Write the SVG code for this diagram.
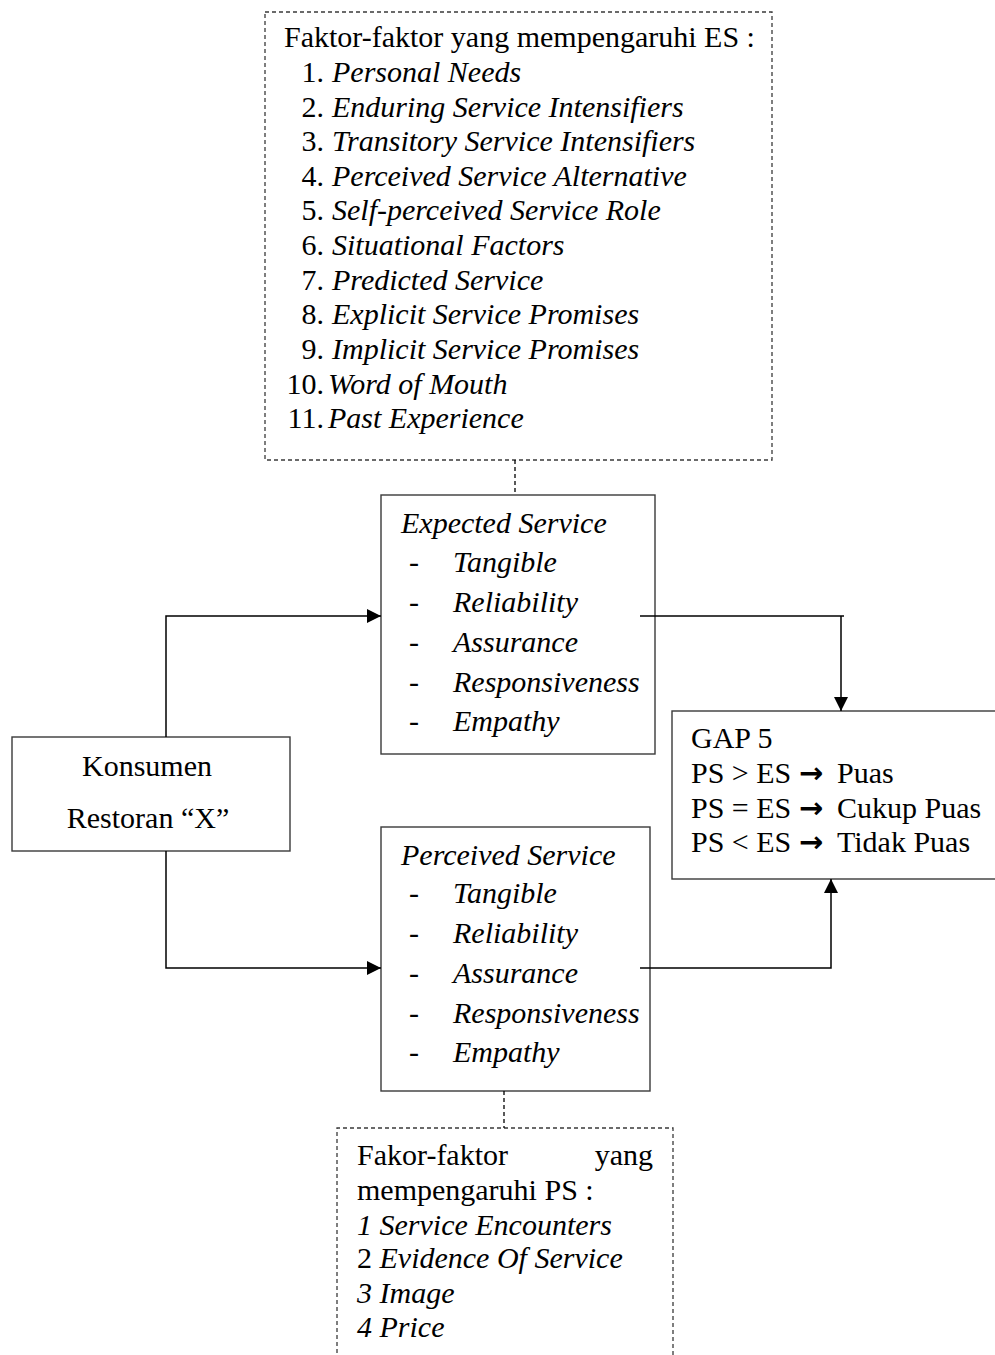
<svg xmlns="http://www.w3.org/2000/svg" width="995" height="1355" viewBox="0 0 995 1355">
<style>
text{font-family:"Liberation Serif","Times New Roman",serif;font-size:30px;fill:#000}
.i{font-style:italic}
.box{fill:#fff;stroke:#3a3a3a;stroke-width:1.4}
.dbox{fill:none;stroke:#3a3a3a;stroke-width:1.3;stroke-dasharray:4,3}
.ln{fill:none;stroke:#000;stroke-width:1.5}
.dl{fill:none;stroke:#000;stroke-width:1.3;stroke-dasharray:4,3}
.arr{font-family:"DejaVu Sans",sans-serif;font-weight:bold;font-size:29px}
</style>
<defs>
<marker id="ah" viewBox="0 0 10 10" refX="10" refY="5" markerUnits="userSpaceOnUse" markerWidth="14" markerHeight="14" orient="auto">
<path d="M0,0 L10,5 L0,10 z" fill="#000"/>
</marker>
</defs>
<g id="es-factors">
<rect class="dbox" x="265" y="12" width="507" height="448"/>
<text x="284" y="47">Faktor-faktor yang mempengaruhi ES :</text>
<g text-anchor="end">
<text x="324" y="82">1.</text>
<text x="324" y="116.5">2.</text>
<text x="324" y="151">3.</text>
<text x="324" y="185.5">4.</text>
<text x="324" y="220">5.</text>
<text x="324" y="255">6.</text>
<text x="324" y="289.5">7.</text>
<text x="324" y="324">8.</text>
<text x="324" y="358.5">9.</text>
<text x="324" y="393.5">10.</text>
<text x="324" y="428">11.</text>
</g>
<text class="i" x="332" y="82">Personal Needs</text>
<text class="i" x="332" y="116.5">Enduring Service Intensifiers</text>
<text class="i" x="332" y="151">Transitory Service Intensifiers</text>
<text class="i" x="332" y="185.5">Perceived Service Alternative</text>
<text class="i" x="332" y="220">Self-perceived Service Role</text>
<text class="i" x="332" y="255">Situational Factors</text>
<text class="i" x="332" y="289.5">Predicted Service</text>
<text class="i" x="332" y="324">Explicit Service Promises</text>
<text class="i" x="332" y="358.5">Implicit Service Promises</text>
<text class="i" x="328" y="393.5">Word of Mouth</text>
<text class="i" x="328" y="428">Past Experience</text>
</g>
<g id="expected">
<rect class="box" x="381" y="495" width="274" height="259"/>
<text class="i" x="401" y="533">Expected Service</text>
<text x="409" y="572">-</text><text class="i" x="453" y="572">Tangible</text>
<text x="409" y="612">-</text><text class="i" x="453" y="612">Reliability</text>
<text x="409" y="652">-</text><text class="i" x="453" y="652">Assurance</text>
<text x="409" y="692">-</text><text class="i" x="453" y="692">Responsiveness</text>
<text x="409" y="731">-</text><text class="i" x="453" y="731">Empathy</text>
</g>
<g id="perceived">
<rect class="box" x="381" y="827" width="269" height="264"/>
<text class="i" x="401" y="865">Perceived Service</text>
<text x="409" y="903">-</text><text class="i" x="453" y="903">Tangible</text>
<text x="409" y="943">-</text><text class="i" x="453" y="943">Reliability</text>
<text x="409" y="983">-</text><text class="i" x="453" y="983">Assurance</text>
<text x="409" y="1023">-</text><text class="i" x="453" y="1023">Responsiveness</text>
<text x="409" y="1062">-</text><text class="i" x="453" y="1062">Empathy</text>
</g>
<g id="konsumen">
<rect class="box" x="12" y="737" width="278" height="114"/>
<text x="147" y="776" text-anchor="middle">Konsumen</text>
<text x="148" y="828" text-anchor="middle">Restoran “X”</text>
</g>
<g id="gap5">
<rect class="box" x="672" y="711" width="330" height="168"/>
<text x="691" y="748">GAP 5</text>
<text x="691" y="783">PS &gt; ES</text><text class="arr" x="799" y="783">→</text><text x="837" y="783">Puas</text>
<text x="691" y="818">PS = ES</text><text class="arr" x="799" y="818">→</text><text x="837" y="818">Cukup Puas</text>
<text x="691" y="852">PS &lt; ES</text><text class="arr" x="799" y="852">→</text><text x="837" y="852">Tidak Puas</text>
</g>
<g id="ps-factors">
<path class="dbox" d="M337,1360 V1128 H673 V1360"/>
<text x="357" y="1165">Fakor-faktor</text>
<text x="653" y="1165" text-anchor="end">yang</text>
<text x="357" y="1200">mempengaruhi PS :</text>
<text class="i" x="357" y="1235">1 Service Encounters</text>
<text x="357" y="1268">2 <tspan class="i">Evidence Of Service</tspan></text>
<text class="i" x="357" y="1303">3 Image</text>
<text class="i" x="357" y="1337">4 Price</text>
</g>
<g id="connectors">
<path class="dl" d="M515,460 V495"/>
<path class="dl" d="M504,1091 V1128"/>
<path class="ln" d="M166,737 V616 H381" marker-end="url(#ah)"/>
<path class="ln" d="M166,851 V968 H381" marker-end="url(#ah)"/>
<path class="ln" d="M640,616 H844"/>
<path class="ln" d="M841,616 V711" marker-end="url(#ah)"/>
<path class="ln" d="M640,968 H831 V879" marker-end="url(#ah)"/>
</g>
</svg>
